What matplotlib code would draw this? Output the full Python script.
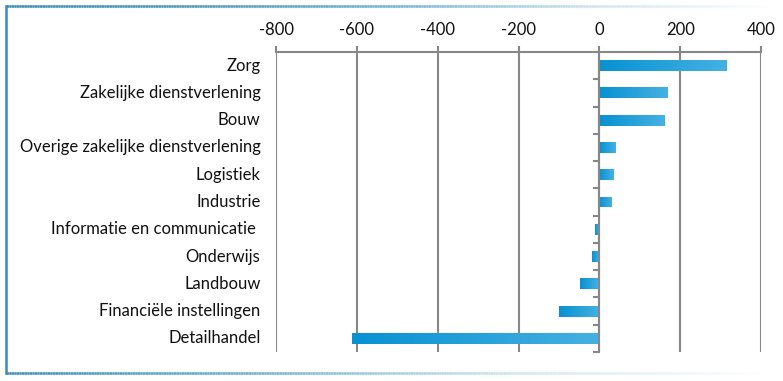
import numpy as np
import matplotlib
matplotlib.use("Agg")
import matplotlib.pyplot as plt
import matplotlib.transforms as mtransforms
from matplotlib.collections import LineCollection
from matplotlib.colors import LinearSegmentedColormap

# data
categories = ["Zorg", "Zakelijke dienstverlening", "Bouw",
              "Overige zakelijke dienstverlening", "Logistiek", "Industrie",
              "Informatie en communicatie ", "Onderwijs", "Landbouw",
              "Financiële instellingen", "Detailhandel"]
values = [316, 170, 163, 42, 35, 31, -10, -18, -47, -99, -613]
xticks = [-800, -600, -400, -200, 0, 200, 400]

plt.rcParams["font.family"] = ["Lato", "DejaVu Sans"]

fig = plt.figure(figsize=(7.83, 3.81), dpi=100)
ax = fig.add_axes([276 / 783, 1 - 352 / 381, (761 - 276) / 783, 300 / 381])

ypos = np.arange(len(categories))
bars = ax.barh(ypos, values, height=0.4, color="none", zorder=3)

# horizontal gradient in each bar, dark on the left, lighter on the right
bar_cmap = LinearSegmentedColormap.from_list("bar", ["#0791d2", "#45b1e2"])
grad = np.linspace(0, 1, 256).reshape(1, -1)
for b in bars:
    x0, y0 = b.get_x(), b.get_y()
    w, h = b.get_width(), b.get_height()
    im = ax.imshow(grad, cmap=bar_cmap, aspect="auto", zorder=3,
                   extent=[min(x0, x0 + w), max(x0, x0 + w), y0 + h, y0])
    im.set_clip_path(b)

ax.set_xlim(xticks[0], xticks[-1])
ax.set_ylim(len(categories) - 0.5, -0.5)

gray = "#878787"
ax.xaxis.tick_top()
ax.set_xticks(xticks)
ax.set_xticklabels([str(t) for t in xticks], fontsize=12, color="#111111")
ax.tick_params(axis="x", length=4, width=1.5, color=gray, pad=6)
ax.grid(axis="x", color=gray, linewidth=1.5, zorder=1)

for s in ["right", "bottom"]:
    ax.spines[s].set_visible(False)
ax.spines["top"].set_color(gray)
ax.spines["top"].set_linewidth(1.5)
ax.spines["left"].set_position(("data", 0))
ax.spines["left"].set_color(gray)
ax.spines["left"].set_linewidth(1.5)
ax.spines["left"].set_zorder(4)

# category separators as small ticks on the zero axis
ax.set_yticks(ypos)
ax.set_yticklabels([])
ax.tick_params(axis="y", which="major", length=0)
ax.set_yticks(np.arange(len(categories) + 1) - 0.5, minor=True)
ax.tick_params(axis="y", which="minor", length=4, width=1.5, color=gray)

trans = mtransforms.blended_transform_factory(ax.transAxes, ax.transData)
for y, c in zip(ypos, categories):
    ax.text(-0.032, y, c, transform=trans, ha="right", va="center",
            fontsize=12, color="#111111")

# faded blue frame around the picture
frame_cmap = LinearSegmentedColormap.from_list(
    "frame", ["#3a8bb6", "#6fb2d0", "#cfe6f0", "#ffffff"])
xs = np.linspace(6 / 783, 776 / 783, 300)
for yy in [1 - 6 / 381, 1 - 373 / 381]:
    segs = [[(xs[i], yy), (xs[i + 1], yy)] for i in range(len(xs) - 1)]
    cols = frame_cmap(np.linspace(0, 1, len(segs)) ** (1.6 if yy > 0.5 else 1.0))
    fig.add_artist(LineCollection(segs, colors=cols, linewidths=1.8,
                                  transform=fig.transFigure))
fig.add_artist(plt.Line2D([6 / 783, 6 / 783], [1 - 6 / 381, 1 - 373 / 381],
                          color="#3a8bb6", linewidth=1.8,
                          transform=fig.transFigure))

fig.savefig("out.png", dpi=100)
